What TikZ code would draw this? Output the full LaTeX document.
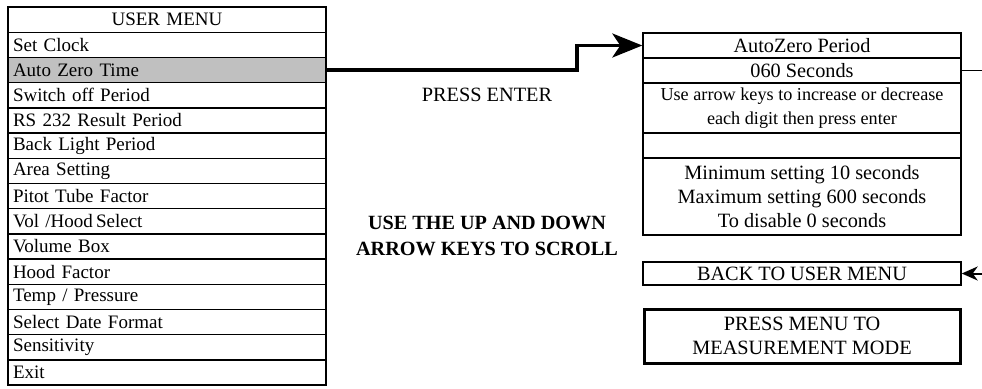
\documentclass[tikz,border=0pt]{standalone}
\usepackage{fontspec}
\setmainfont{Liberation Serif}
\usepackage{tikz}
\usetikzlibrary{arrows.meta}
\definecolor{rowgray}{RGB}{192,192,192}

\begin{document}
\begin{tikzpicture}[x=1pt,y=-1pt]
      \tikzset{menu row/.style={draw,
          line width=1.4pt,
          minimum height=25.2pt,
          text width=308pt,
          inner xsep=5pt,
          inner ysep=0pt,
          align=left,
          font=\fontsize{19pt}{23pt}\selectfont},
        panel row/.style={draw,
          line width=1.4pt,
          minimum width=318pt,
          minimum height=#1,
          inner sep=0pt,
          align=center,
          font=\fontsize{20.3pt}{24pt}\selectfont},
        note/.style={inner sep=0pt, align=center,
          font=\fontsize{20.3pt}{26pt}\selectfont}
      }
      \useasboundingbox (0,0) rectangle (982,388);
      % user menu
      \node [menu row,align=center] (title) at (167,19.6) {USER MENU};
      \node [menu row] (clock) at (167,44.8) {Set Clock};
      \node [menu row,fill=rowgray] (azt) at (167,70) {Auto Zero Time};
      \node [menu row] (off) at (167,95.2) {Switch off Period};
      \node [menu row] (rs) at (167,120.4) {RS 232 Result Period};
      \node [menu row] (light) at (167,145.6) {Back Light Period};
      \node [menu row] (area) at (167,170.8) {Area Setting};
      \node [menu row] (pitot) at (167,196) {Pitot Tube Factor};
      \node [menu row] (vol) at (167,221.2) {Vol /Hood\,Select};
      \node [menu row] (vbox) at (167,246.4) {Volume Box};
      \node [menu row] (hood) at (167,271.6) {Hood Factor};
      \node [menu row] (temp) at (167,296.8) {Temp / Pressure};
      \node [menu row] (date) at (167,322) {Select Date Format};
      \node [menu row] (sens) at (167,347.2) {Sensitivity};
      \node [menu row] (exit) at (167,372.4) {Exit};
      % auto zero panel
      \node [panel row=25pt] (azp) at (802,45.5) {AutoZero Period};
      \node [panel row=25pt] (secs) at (802,70.5) {060 Seconds};
      \node [panel row=50pt,font=\fontsize{18.2pt}{24pt}\selectfont] (hint) at (802,108)
        {Use arrow keys to increase or decrease\\each digit then press enter};
      \node [panel row=25pt] (blank) at (802,145.5) {};
      \node [panel row=77pt] (limits) at (802,196.5)
        {Minimum setting 10 seconds\\Maximum setting 600 seconds\\To disable 0 seconds};
      \node [panel row=23pt] (back) at (802,273.5) {BACK TO USER MENU};
      \node [panel row=54pt,line width=3pt,minimum width=316pt] (meas) at (802,336)
        {PRESS MENU TO\\MEASUREMENT MODE};
      % notes
      \node [note] (enter) at (487,95) {PRESS ENTER};
      \node [note,font=\fontsize{20.2pt}{26pt}\selectfont\bfseries] (scroll) at (487,236)
        {USE THE UP AND DOWN\\ARROW KEYS TO SCROLL};
      % connectors
      \coordinate (kink) at (577,70);
      \coordinate (offout) at (982,70.5);
      \coordinate (offin) at (982,273.5);
      \draw [line width=3.5pt,-{Stealth[length=30pt,width=24pt,inset=8pt]}] (azt.east)--(kink)|-(azp.west);
      \draw [line width=1.4pt] (secs.east)--(offout);
      \draw [line width=2pt,-{Stealth[length=16pt,width=14pt,inset=5pt]}] (offin)--(back.east);
    \end{tikzpicture}
\end{document}
